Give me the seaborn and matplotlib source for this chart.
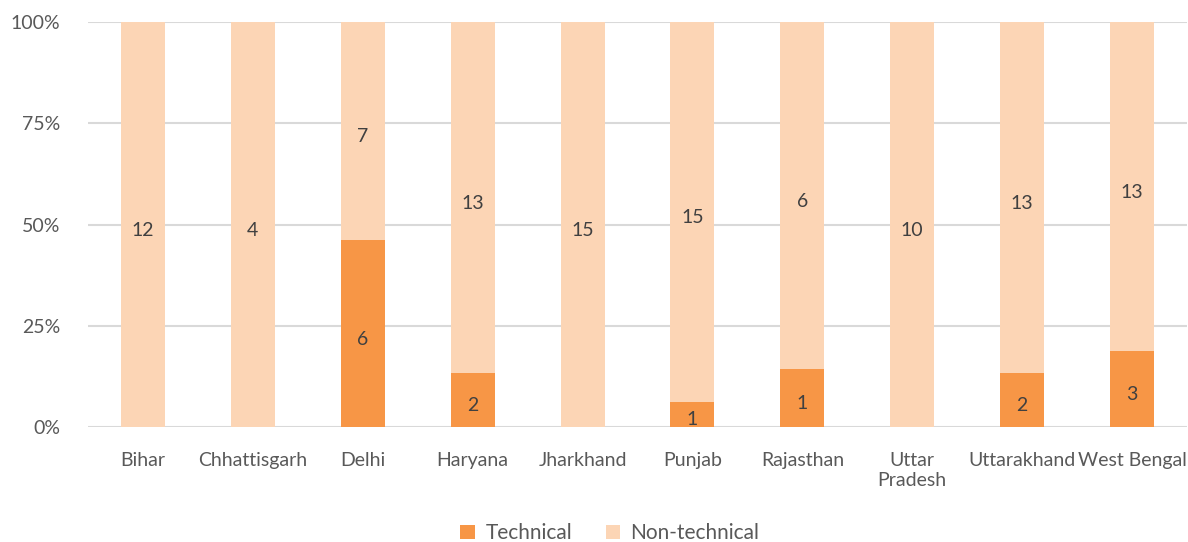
import matplotlib
matplotlib.use("Agg")
import matplotlib.pyplot as plt
import seaborn as sns
import numpy as np
import pandas as pd

states = ["Bihar", "Chhattisgarh", "Delhi", "Haryana", "Jharkhand", "Punjab",
          "Rajasthan", "Uttar\nPradesh", "Uttarakhand", "West Bengal"]
technical = [0, 0, 6, 2, 0, 1, 1, 0, 2, 3]
non_technical = [12, 4, 7, 13, 15, 15, 6, 10, 13, 13]

sns.set_theme(style="white")
plt.rcParams["font.family"] = ["Lato", "DejaVu Sans"]

tech = np.array(technical, dtype=float)
non = np.array(non_technical, dtype=float)
total = tech + non
df = pd.DataFrame({"state": states,
                   "tech_pct": tech / total * 100,
                   "non_pct": non / total * 100})

c_tech = "#F79646"
c_non = "#FCD5B5"
grey = "#595959"

fig = plt.figure(figsize=(11.88, 5.42), dpi=100)
ax = fig.add_axes([88 / 1188, 1 - 427 / 542, 1099 / 1188, 405 / 542])

sns.barplot(data=df, x="state", y="tech_pct", color=c_tech, width=0.4,
            saturation=1, linewidth=0, ax=ax, label="Technical")
sns.barplot(data=df, x="state", y="non_pct", bottom=df["tech_pct"], color=c_non,
            width=0.4, saturation=1, linewidth=0, ax=ax, label="Non-technical")

for cont, vals in zip(ax.containers, [technical, non_technical]):
    labels = [str(v) if v > 0 else "" for v in vals]
    ax.bar_label(cont, labels=labels, label_type="center", color="#404040",
                 fontsize=14, padding=-4)

ax.set_ylim(0, 100)
ax.set_yticks([0, 25, 50, 75, 100])
ax.set_yticklabels(["0%", "25%", "50%", "75%", "100%"])
ax.yaxis.grid(True, color="#D9D9D9", linewidth=1.5)
ax.set_axisbelow(True)
for s in ax.spines.values():
    s.set_visible(False)
ax.tick_params(axis="both", length=0, labelsize=14, labelcolor=grey)
ax.tick_params(axis="x", pad=18)
ax.tick_params(axis="y", pad=20)
ax.set_xlabel("")
ax.set_ylabel("")

ax.legend(loc="center", bbox_to_anchor=(0.475, -0.262), ncol=2, frameon=False,
          fontsize=15, labelcolor=grey, handlelength=0.7, handleheight=0.7,
          columnspacing=1.6, handletextpad=0.5, borderpad=0)

fig.savefig("out.png", dpi=100)
